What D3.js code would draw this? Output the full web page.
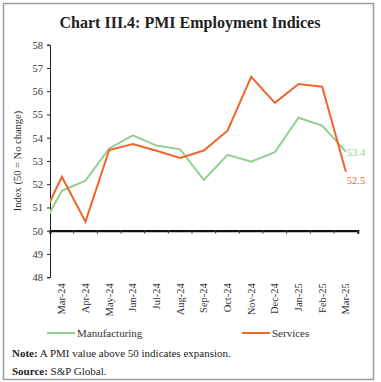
<!DOCTYPE html>
<html><head><meta charset="utf-8">
<script src="https://cdn.jsdelivr.net/npm/d3@7"></script>
<style>body{margin:0;background:#fff}svg{display:block}</style>
</head><body>
<script>
const months = ["Feb-24","Mar-24","Apr-24","May-24","Jun-24","Jul-24","Aug-24","Sep-24","Oct-24","Nov-24","Dec-24","Jan-25","Feb-25","Mar-25"];
const tickLabels = months.slice(1);
const manufacturing = [49.86,51.72,52.15,53.54,54.10,53.66,53.50,52.18,53.26,52.97,53.38,54.86,54.52,53.40];
const services = [50.18,52.32,50.39,53.47,53.73,53.44,53.13,53.45,54.30,56.62,55.50,56.31,56.19,52.54];
const yTicks = [48,49,50,51,52,53,54,55,56,57,58];
const seriesNames = ["Manufacturing","Services"];
const colors = ["#93cf93","#f0652b"];

const W=381,H=382;
const svg=d3.select("body").append("svg").attr("width",W).attr("height",H);
const font="Liberation Serif";
svg.append("rect").attr("x",3.5).attr("y",3.5).attr("width",370).attr("height",376)
  .attr("fill","none").attr("stroke","#9a9a9a").attr("stroke-width",1.5);
svg.append("text").attr("x",190).attr("y",28).attr("text-anchor","middle")
  .attr("font-family",font).attr("font-weight","bold").attr("font-size",16).attr("fill","#222")
  .text("Chart III.4: PMI Employment Indices");

const L=50,R=357.7,T=44.7,B=277.2;
const x=d3.scaleBand().domain(tickLabels).range([L,R]).padding(0);
const xPos=m=> m==="Feb-24" ? x("Mar-24")-x.bandwidth()/2 : x(m)+x.bandwidth()/2;
const y=d3.scaleLinear().domain([48,58]).range([B,T]);

// y axis
const ya=svg.append("g").attr("transform",`translate(${L},0)`)
  .call(d3.axisLeft(y).tickValues(yTicks).tickSize(3).tickPadding(4).tickFormat(d3.format("d")));
ya.select(".domain").attr("stroke","#222");
ya.selectAll(".tick line").attr("stroke","#222");
ya.selectAll("text").attr("font-family",font).attr("font-size",10.5).attr("fill","#333");

// x axis at 50
const xa=svg.append("g").attr("transform",`translate(0,${y(50)})`)
  .call(d3.axisBottom(x).tickSize(3).tickFormat(""));
xa.select(".domain").attr("stroke","#111").attr("stroke-width",2.2);
xa.selectAll(".tick line").attr("transform",`translate(${-x.bandwidth()/2},0)`).attr("stroke","#444");
xa.append("line").attr("x1",R).attr("x2",R).attr("y1",0).attr("y2",3).attr("stroke","#444");

// x labels
svg.append("g").selectAll("text").data(tickLabels).join("text")
  .attr("transform",d=>`translate(${x(d)+x.bandwidth()/2+3.5},${B+6}) rotate(-90)`)
  .attr("text-anchor","end").attr("font-family",font).attr("font-size",10.5).attr("fill","#333")
  .text(d=>d);

// y title
svg.append("text").attr("transform",`translate(21,${(T+B)/2}) rotate(-90)`)
  .attr("text-anchor","middle").attr("font-family",font).attr("font-size",10.5).attr("fill","#333")
  .text("Index (50 = No change)");

svg.append("defs").append("clipPath").attr("id","clip").append("rect")
  .attr("x",L).attr("y",0).attr("width",W-L).attr("height",H);

const line=d3.line().x((d,i)=>xPos(months[i])).y(d=>y(d));
[manufacturing,services].forEach((s,k)=>{
  svg.append("path").datum(s).attr("d",line).attr("fill","none")
    .attr("stroke",colors[k]).attr("stroke-width",2).attr("clip-path","url(#clip)");
});
// end labels
const last=months.length-1;
svg.append("text").attr("x",xPos(months[last])+1).attr("y",y(manufacturing[last])+4)
  .attr("font-family",font).attr("font-size",10.5).attr("fill",colors[0]).text(manufacturing[last].toFixed(1));
svg.append("text").attr("x",xPos(months[last])+1).attr("y",y(services[last])+12)
  .attr("font-family",font).attr("font-size",10.5).attr("fill",colors[1]).text(services[last].toFixed(1));

// legend
const lg=[{x:47},{x:242}];
seriesNames.forEach((n,k)=>{
  svg.append("line").attr("x1",lg[k].x).attr("x2",lg[k].x+28).attr("y1",333).attr("y2",333)
    .attr("stroke",colors[k]).attr("stroke-width",2);
  svg.append("text").attr("x",lg[k].x+30).attr("y",337).attr("font-family",font).attr("font-size",11)
    .attr("fill","#333").text(n);
});

// notes
const n1=svg.append("text").attr("x",12).attr("y",357).attr("font-family",font).attr("font-size",11).attr("fill","#222");
n1.append("tspan").attr("font-weight","bold").text("Note:");
n1.append("tspan").text(" A PMI value above 50 indicates expansion.");
const n2=svg.append("text").attr("x",12).attr("y",375).attr("font-family",font).attr("font-size",11).attr("fill","#222");
n2.append("tspan").attr("font-weight","bold").text("Source:");
n2.append("tspan").text(" S&P Global.");
</script>
</body></html>
